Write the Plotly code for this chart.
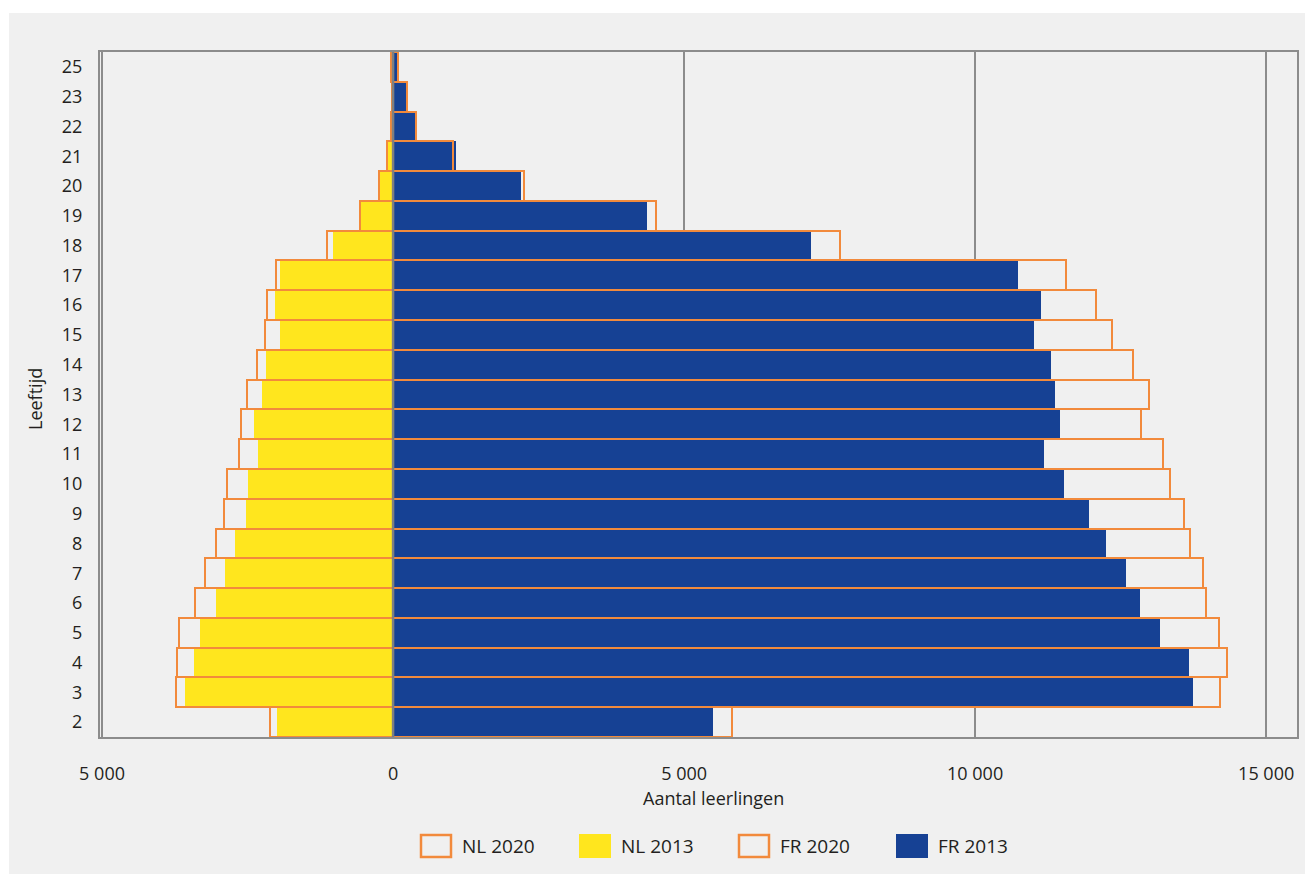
import plotly.graph_objects as go

ages = ["2", "3", "4", "5", "6", "7", "8", "9", "10", "11", "12", "13", "14",
        "15", "16", "17", "18", "19", "20", "21", "22", "23", "25"]
nl_2013 = [1990, 3570, 3420, 3320, 3045, 2895, 2720, 2530, 2500, 2325, 2390, 2245, 2190,
           1935, 2020, 1945, 1030, 550, 235, 95, 30, 15, 20]
nl_2020 = [2115, 3730, 3705, 3675, 3410, 3235, 3050, 2905, 2845, 2655, 2620, 2510, 2335,
           2195, 2160, 2015, 1130, 565, 250, 105, 40, 20, 30]
fr_2013 = [5500, 13750, 13670, 13170, 12825, 12600, 12245, 11950, 11520, 11175, 11465, 11370, 11310,
           11010, 11135, 10730, 7175, 4365, 2200, 1075, 410, 265, 70]
fr_2020 = [5825, 14210, 14320, 14195, 13975, 13915, 13690, 13590, 13345, 13220, 12850, 12995, 12720,
           12360, 12085, 11555, 7670, 4520, 2250, 1035, 390, 235, 90]

legend_labels = ["NL 2020", "NL 2013", "FR 2020", "FR 2013"]
x_tickvals = [-5000, 0, 5000, 10000, 15000]
x_ticktext = ["5 000", "0", "5 000", "10 000", "15 000"]

YELLOW = "#FFE61E"
BLUE = "#164194"
ORANGE = "#F28A3C"
PLOT_BG = "#D3D4D6"
PANEL = "#F0F0F0"
GRID = "#8C8C8C"
TEXT = "#231F20"
FONT = "Open Sans"

OFF = 8  # page body margin
W, H = 1313, 877
# plot area on screen: x 100..1297, y 52..737
ML = 100 - OFF
MT = 52 - OFF
MR = W - (1297 - OFF)
MB = H - (737 - OFF)
PW, PH = W - ML - MR, H - MT - MB


def px(x):
    return (x - OFF - ML) / PW


def py(y):
    return (H - MB - (y - OFF)) / PH


fig = go.Figure()
fig.add_trace(go.Bar(y=ages, x=[-v for v in nl_2013], orientation="h", name="NL 2013",
                     marker=dict(color=YELLOW, line=dict(width=0)), width=1, showlegend=False))
fig.add_trace(go.Bar(y=ages, x=fr_2013, orientation="h", name="FR 2013",
                     marker=dict(color=BLUE, line=dict(width=0)), width=1, showlegend=False))
fig.add_trace(go.Bar(y=ages, x=[-v for v in nl_2020], orientation="h", name="NL 2020",
                     marker=dict(color="rgba(0,0,0,0)", line=dict(color=ORANGE, width=2)),
                     width=1, showlegend=False))
fig.add_trace(go.Bar(y=ages, x=fr_2020, orientation="h", name="FR 2020",
                     marker=dict(color="rgba(0,0,0,0)", line=dict(color=ORANGE, width=2)),
                     width=1, showlegend=False))

shapes = [
    dict(type="rect", xref="paper", yref="paper", x0=px(9), x1=px(W + 20), y0=py(874), y1=py(13),
         fillcolor=PANEL, line=dict(width=0), layer="below"),
    dict(type="line", xref="x", yref="paper", x0=0, x1=0, y0=0, y1=1,
         line=dict(color="#808080", width=2.5), layer="above"),
]

annotations = [
    dict(text="Aantal leerlingen", xref="paper", yref="paper", x=px(713), y=py(798),
         showarrow=False, font=dict(family=FONT, size=18, color=TEXT), xanchor="center", yanchor="middle"),
    dict(text="Leeftijd", xref="paper", yref="paper", x=px(35), y=py(399), textangle=-90,
         showarrow=False, font=dict(family=FONT, size=18, color=TEXT), xanchor="center", yanchor="middle"),
]

legend_boxes = [420, 579, 738, 896]
legend_fills = [None, YELLOW, None, BLUE]
for lx, lab, fill in zip(legend_boxes, legend_labels, legend_fills):
    if fill is None:
        shapes.append(dict(type="rect", xref="paper", yref="paper", x0=px(lx + 1), x1=px(lx + 31),
                           y0=py(857), y1=py(835), fillcolor="rgba(0,0,0,0)",
                           line=dict(color=ORANGE, width=2.5), layer="above"))
    else:
        shapes.append(dict(type="rect", xref="paper", yref="paper", x0=px(lx), x1=px(lx + 32),
                           y0=py(858), y1=py(834), fillcolor=fill, line=dict(width=0), layer="above"))
    annotations.append(dict(text=lab, xref="paper", yref="paper", x=px(lx + 40), y=py(846),
                            showarrow=False, font=dict(family=FONT, size=19, color=TEXT),
                            xanchor="left", yanchor="middle"))

fig.update_layout(
    width=W, height=H,
    margin=dict(l=ML, r=MR, t=MT, b=MB, pad=0),
    paper_bgcolor="white", plot_bgcolor=PLOT_BG,
    barmode="overlay", bargap=0,
    font=dict(family=FONT, size=18, color=TEXT),
    shapes=shapes, annotations=annotations,
    showlegend=False,
    xaxis=dict(range=[-5035, 15530], tickvals=x_tickvals, ticktext=x_ticktext,
               showgrid=True, gridcolor=GRID, gridwidth=1.5, zeroline=False,
               showline=True, mirror=True, linecolor=GRID, linewidth=2,
               ticks="", ticklabelstandoff=19, tickfont=dict(size=18)),
    yaxis=dict(type="category", categoryorder="array", categoryarray=ages,
               showgrid=False, zeroline=False,
               showline=True, mirror=True, linecolor=GRID, linewidth=2,
               ticks="", ticklabelstandoff=12, tickfont=dict(size=18)),
)

fig.write_html("out.html")
